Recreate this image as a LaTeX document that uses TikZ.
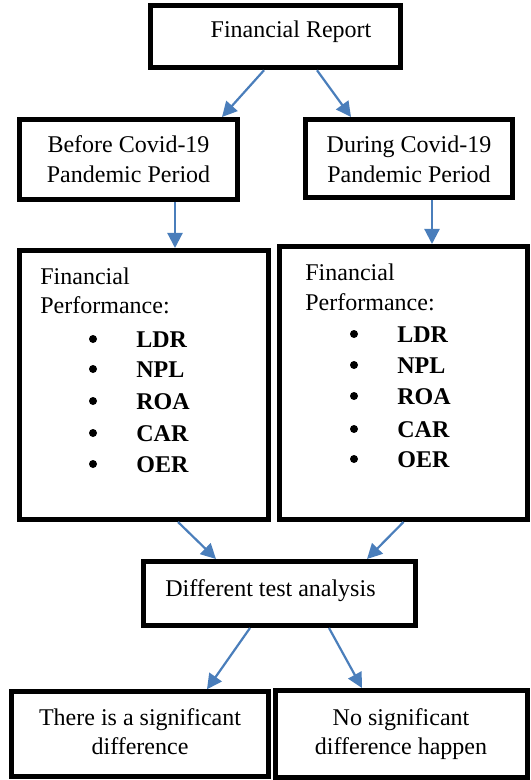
\documentclass[tikz,border=0pt]{standalone}
\usepackage{fontspec}
\setmainfont{Liberation Serif}
\usetikzlibrary{arrows.meta}
\definecolor{arrowblue}{RGB}{74,126,187}

\begin{document}
\begin{tikzpicture}[x=0.5pt,y=-0.5pt,
  every node/.style={font=\fontsize{12}{15}\selectfont},
  box/.style={draw,line width=2.5pt,inner sep=0pt},
  dot/.style={circle,fill,inner sep=0pt,minimum size=4pt},
  item/.style={anchor=base west,inner sep=0pt,font=\fontsize{12}{15}\selectfont\bfseries},
  arr/.style={arrowblue,line width=1.1pt,->,>={Triangle[length=7.5pt,width=7.5pt]}}]
 \useasboundingbox (0,0) rectangle (530,780);

 % frames
 \draw (275.5,36.75) node[box,minimum width=125pt,minimum height=31pt] (report) {};
 \draw (128.5,159.5) node[box,minimum width=109pt,minimum height=40pt] (before) {};
 \draw (409,158.5) node[box,minimum width=103.5pt,minimum height=39pt] (during) {};
 \draw (144,385) node[box,minimum width=124.5pt,minimum height=134.5pt] (perfA) {};
 \draw (403.5,383) node[box,minimum width=124pt,minimum height=136.5pt] (perfB) {};
 \draw (279.5,593.5) node[box,minimum width=136pt,minimum height=32pt] (test) {};
 \draw (140,734.25) node[box,minimum width=128.5pt,minimum height=42.5pt] (sig) {};
 \draw (401.5,733.75) node[box,minimum width=126pt,minimum height=43.25pt] (nosig) {};

 % texts
 \draw (291,38) node[anchor=base] (t1) {Financial Report};
 \draw (128.5,153) node[anchor=base] (t2) {Before Covid-19};
 \draw (128.5,183) node[anchor=base] (t3) {Pandemic Period};
 \draw (409,153) node[anchor=base] (t4) {During Covid-19};
 \draw (409,183) node[anchor=base] (t5) {Pandemic Period};
 \draw (270.5,596) node[anchor=base] (t6) {Different test analysis};
 \draw (140,725) node[anchor=base] (t7) {There is a significant};
 \draw (140,754) node[anchor=base] (t8) {difference};
 \draw (401,725) node[anchor=base] (t9) {No significant};
 \draw (401,754) node[anchor=base] (t10) {difference happen};

 \draw (40,285) node[anchor=base west,inner sep=0pt] (fa1) {Financial};
 \draw (40,314) node[anchor=base west,inner sep=0pt] (fa2) {Performance:};
 \foreach \y/\r [count=\i] in {347/LDR,377/NPL,409/ROA,441/CAR,472/OER}{
   \draw (93,\y-8) node[dot] (ba\i) {};
   \draw (136,\y) node[item] (ra\i) {\r};
 }
 \draw (305,280) node[anchor=base west,inner sep=0pt] (fb1) {Financial};
 \draw (305,310) node[anchor=base west,inner sep=0pt] (fb2) {Performance:};
 \foreach \y/\r [count=\i] in {342/LDR,373/NPL,404/ROA,437/CAR,467/OER}{
   \draw (354,\y-8) node[dot] (bb\i) {};
   \draw (397,\y) node[item] (rb\i) {\r};
 }

 % arrows
 \draw [arr] ([xshift=-5.75pt]report.south) -- ([xshift=-9pt]before.north east);
 \draw [arr] ([xshift=20.75pt]report.south) -- ([xshift=24pt]during.north west);
 \draw [arr] ([xshift=23.25pt]before.south) -- ([xshift=15.5pt]perfA.north);
 \draw [arr] ([xshift=11.5pt]during.south) -- ([xshift=14.25pt]perfB.north);
 \draw [arr] ([xshift=17pt]perfA.south) -- ([xshift=37.5pt]test.north west);
 \draw [arr] (perfB.south) -- ([xshift=-25.5pt]test.north east);
 \draw [arr] ([xshift=-14.75pt]test.south) -- ([xshift=33.5pt]sig.north);
 \draw [arr] ([xshift=24.75pt]test.south) -- ([xshift=-19.75pt]nosig.north);

\end{tikzpicture}
\end{document}
